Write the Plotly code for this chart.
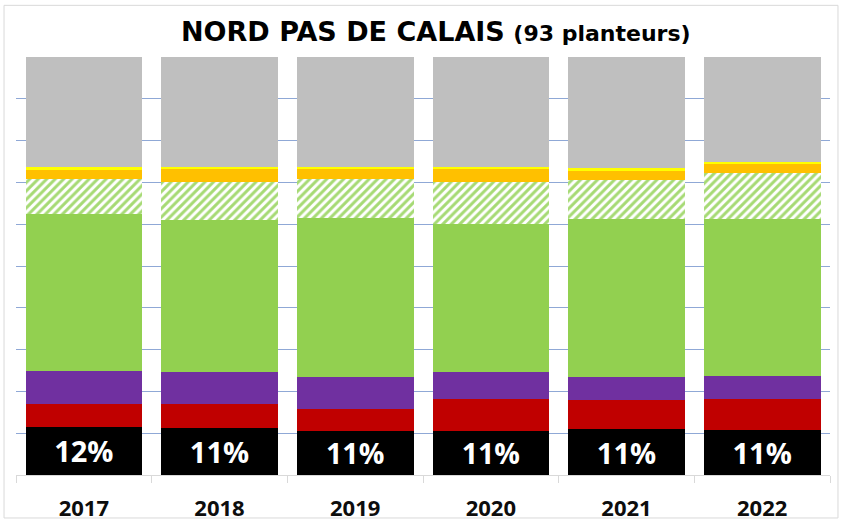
import plotly.graph_objects as go

years = ["2017", "2018", "2019", "2020", "2021", "2022"]
black = [11.6, 11.3, 10.6, 10.6, 10.9, 10.8]
red = [5.4, 5.6, 5.2, 7.7, 7.0, 7.3]
purple = [8.0, 7.7, 7.7, 6.4, 5.6, 5.7]
green = [37.5, 36.4, 37.9, 35.3, 37.7, 37.4]
hatched = [8.3, 9.1, 9.4, 10.1, 9.3, 11.1]
orange = [2.2, 3.0, 2.4, 3.1, 2.3, 2.1]
yellow = [0.6, 0.6, 0.5, 0.5, 0.6, 0.5]
gray = [26.4, 26.3, 26.3, 26.3, 26.6, 25.1]

black_labels = [f"{round(v)}%" for v in black]

FONT = "Open Sans"
TITLE_FONT = "DejaVu Sans"

fig = go.Figure()
fig.add_trace(go.Bar(x=years, y=black, marker=dict(color="#000000", line=dict(width=0)),
                     text=black_labels, textposition="inside", insidetextanchor="middle",
                     textangle=0, textfont=dict(color="white", size=29, family=FONT, weight="bold"),
                     hoverinfo="skip"))
fig.add_trace(go.Bar(x=years, y=red, marker=dict(color="#C00000", line=dict(width=0))))
fig.add_trace(go.Bar(x=years, y=purple, marker=dict(color="#7030A0", line=dict(width=0))))
fig.add_trace(go.Bar(x=years, y=green, marker=dict(color="#92D050", line=dict(width=0))))
fig.add_trace(go.Bar(x=years, y=hatched, marker=dict(
    color="white", line=dict(width=0),
    pattern=dict(shape="/", fgcolor="#A6DA74", bgcolor="white", size=6, solidity=0.5, fillmode="replace"))))
fig.add_trace(go.Bar(x=years, y=orange, marker=dict(color="#FFC000", line=dict(width=0))))
fig.add_trace(go.Bar(x=years, y=yellow, marker=dict(color="#FFFF00", line=dict(width=0))))
fig.add_trace(go.Bar(x=years, y=gray, marker=dict(color="#BFBFBF", line=dict(width=0))))

fig.update_layout(
    width=846, height=526,
    barmode="stack", bargap=0.14,
    showlegend=False,
    paper_bgcolor="white", plot_bgcolor="white",
    margin=dict(l=16, r=16, t=57, b=51, autoexpand=False),
    font=dict(family=FONT, color="#0D0D0D"),
    xaxis=dict(
        type="category", showline=True, linecolor="#D9D9D9", linewidth=1,
        ticks="outside", tickson="boundaries", ticklen=7, tickcolor="#D9D9D9",
        tickfont=dict(size=22, family=FONT, color="#0D0D0D", weight="bold"),
        ticklabelstandoff=14, showgrid=False, automargin=False,
    ),
    yaxis=dict(
        range=[0, 100], dtick=10, showticklabels=False, showgrid=True,
        gridcolor="#8FA8D6", gridwidth=1, zeroline=False, showline=False, automargin=False,
    ),
    annotations=[dict(
        text="<b>NORD PAS DE CALAIS</b> <b><span style='font-size:22px'>(93 planteurs)</span></b>",
        x=(435.5 - 16) / 814, y=(475 - 31) / 418.3, xref="paper", yref="paper",
        xanchor="center", yanchor="middle",
        showarrow=False, font=dict(size=27, family=TITLE_FONT, color="#000000"),
    )],
    shapes=[dict(type="rect", xref="paper", yref="paper",
                 x0=-0.0147, x1=1.0098, y0=-0.1028, y1=1.1236,
                 line=dict(color="#D9D9D9", width=1), fillcolor="rgba(0,0,0,0)", layer="below")],
)

fig.write_html("out.html", config={"displayModeBar": False},
               post_script="document.body.style.margin='0px';document.body.style.overflow='hidden';")
